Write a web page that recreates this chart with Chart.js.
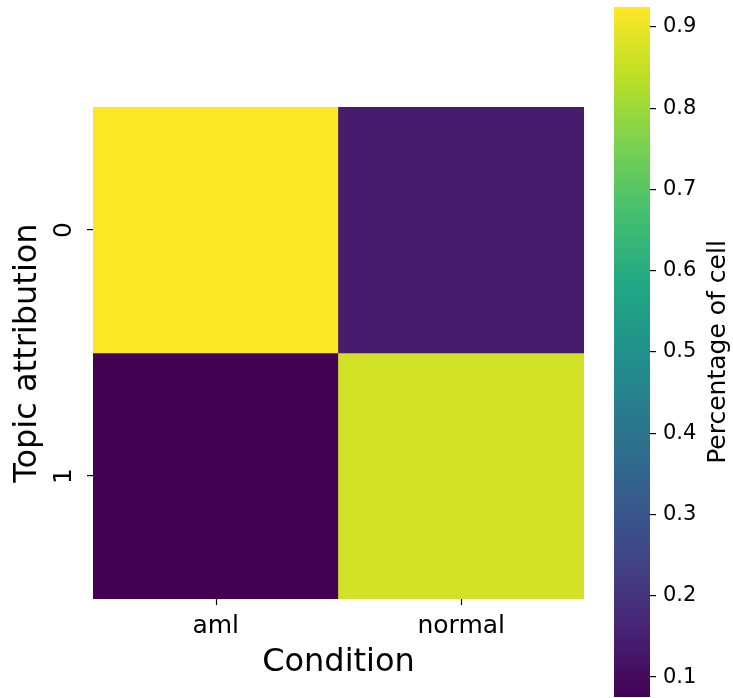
<!DOCTYPE html>
<html>
<head>
<meta charset="utf-8">
<script src="https://cdn.jsdelivr.net/npm/chart.js@4"></script>
<style>
  html, body { margin: 0; padding: 0; background: #fff; }
  #wrap { position: relative; width: 733px; height: 698px; }
  #heat { position: absolute; left: 0; top: 0; }
  #cbar { position: absolute; left: 600px; top: 0; }
</style>
</head>
<body>
<div id="wrap">
  <canvas id="heat" width="600" height="698"></canvas>
  <canvas id="cbar" width="133" height="698"></canvas>
</div>
<script>
// --- data ---
const conditions = ['aml', 'normal'];
const topicRows = ['0', '1'];
const row0 = [0.9245, 0.14];
const row1 = [0.0755, 0.865];
const cbarTicks = [0.1, 0.2, 0.3, 0.4, 0.5, 0.6, 0.7, 0.8, 0.9];

const cells = [row0, row1];
const vmin = Math.min(...row0, ...row1);
const vmax = Math.max(...row0, ...row1);

// viridis stops (0, 0.1, ... 1)
const VIRIDIS = ['#440154','#482475','#414487','#355f8d','#2a788e','#21918c',
                 '#22a884','#44bf70','#7ad151','#bddf26','#fde725'];
function hexToRgb(h){ h = h.replace('#',''); return [0,2,4].map(i => parseInt(h.slice(i,i+2),16)); }
function viridis(t){
  t = Math.max(0, Math.min(1, t));
  const f = t * (VIRIDIS.length - 1);
  const i = Math.min(Math.floor(f), VIRIDIS.length - 2);
  const a = hexToRgb(VIRIDIS[i]), b = hexToRgb(VIRIDIS[i+1]);
  const k = f - i;
  const c = a.map((v, j) => Math.round(v + (b[j] - v) * k));
  return `rgb(${c[0]},${c[1]},${c[2]})`;
}
const norm = v => (v - vmin) / (vmax - vmin);

const FONT = "'DejaVu Sans', sans-serif";

// x tick marks at the category centres
const xTickMarks = {
  id: 'xTickMarks',
  afterDraw(chart) {
    const s = chart.scales.x, ctx = chart.ctx;
    ctx.save();
    ctx.strokeStyle = '#000';
    ctx.lineWidth = 1.2;
    conditions.forEach((c, i) => {
      const px = Math.round(s.getPixelForValue(i)) + 0.5;
      ctx.beginPath();
      ctx.moveTo(px, chart.chartArea.bottom);
      ctx.lineTo(px, chart.chartArea.bottom + 6);
      ctx.stroke();
    });
    ctx.restore();
  }
};

// --- heatmap ---
new Chart(document.getElementById('heat'), {
  type: 'bar',
  data: {
    labels: conditions,
    datasets: cells.map((row, r) => ({
      label: topicRows[r],
      data: row.map(() => 1),
      backgroundColor: row.map(v => viridis(norm(v))),
      borderWidth: 0,
      barPercentage: 1,
      categoryPercentage: 1
    }))
  },
  options: {
    responsive: false,
    animation: false,
    layout: { padding: { top: 107, right: 16, left: 0, bottom: 0 } },
    plugins: { legend: { display: false }, tooltip: { enabled: false } },
    scales: {
      x: {
        stacked: true,
        afterFit: s => { s.height = 99; },
        grid: { display: false },
        border: { display: false },
        ticks: { color: '#000', font: { family: FONT, size: 25 }, padding: 4, maxRotation: 0 },
        title: { display: true, text: 'Condition', color: '#000', font: { family: FONT, size: 32 }, padding: { top: 0, bottom: 16 } }
      },
      y: {
        stacked: true,
        reverse: true,
        min: 0,
        max: topicRows.length,
        afterFit: s => { s.width = 93; },
        afterBuildTicks: s => { s.ticks = topicRows.map((_, i) => ({ value: i + 0.5 })); },
        grid: { drawOnChartArea: false, drawTicks: true, tickLength: 6, color: '#000', lineWidth: 1.2 },
        border: { display: false },
        ticks: {
          color: '#000', font: { family: FONT, size: 25 }, padding: 15,
          minRotation: 90, maxRotation: 90, crossAlign: 'center',
          callback: (v) => topicRows[Math.floor(v)]
        },
        title: { display: true, text: 'Topic attribution', color: '#000', font: { family: FONT, size: 32 }, padding: { top: 8, bottom: 0 } }
      }
    }
  },
  plugins: [xTickMarks]
});

// --- colorbar ---
const cbarTitle = {
  id: 'cbarTitle',
  afterDraw(chart) {
    const { ctx, chartArea } = chart;
    ctx.save();
    ctx.translate(118, (chartArea.top + chartArea.bottom) / 2);
    ctx.rotate(-Math.PI / 2);
    ctx.font = `25px ${FONT}`;
    ctx.fillStyle = '#000';
    ctx.textAlign = 'center';
    ctx.textBaseline = 'middle';
    ctx.fillText('Percentage of cell', 0, 0);
    ctx.restore();
  }
};

new Chart(document.getElementById('cbar'), {
  type: 'bar',
  data: {
    labels: [''],
    datasets: [{
      data: [[vmin, vmax]],
      backgroundColor: (c) => {
        const a = c.chart.chartArea;
        if (!a) return '#888';
        const g = c.chart.ctx.createLinearGradient(0, a.bottom, 0, a.top);
        VIRIDIS.forEach((col, i) => g.addColorStop(i / (VIRIDIS.length - 1), col));
        return g;
      },
      borderWidth: 0,
      barPercentage: 1,
      categoryPercentage: 1
    }]
  },
  options: {
    responsive: false,
    animation: false,
    layout: { padding: { top: 7, left: 14, right: 0, bottom: 1 } },
    plugins: { legend: { display: false }, tooltip: { enabled: false } },
    scales: {
      x: { display: false },
      y: {
        position: 'right',
        min: vmin,
        max: vmax,
        afterFit: s => { s.width = 83; s.paddingTop = 0; s.paddingBottom = 0; },
        afterBuildTicks: s => { s.ticks = cbarTicks.map(v => ({ value: v })); },
        grid: { drawOnChartArea: false, drawTicks: true, tickLength: 6, color: '#000', lineWidth: 1.2 },
        border: { display: false },
        ticks: { color: '#000', font: { family: FONT, size: 21 }, padding: 7, callback: v => v.toFixed(1) }
      }
    }
  },
  plugins: [cbarTitle]
});
</script>
</body>
</html>
